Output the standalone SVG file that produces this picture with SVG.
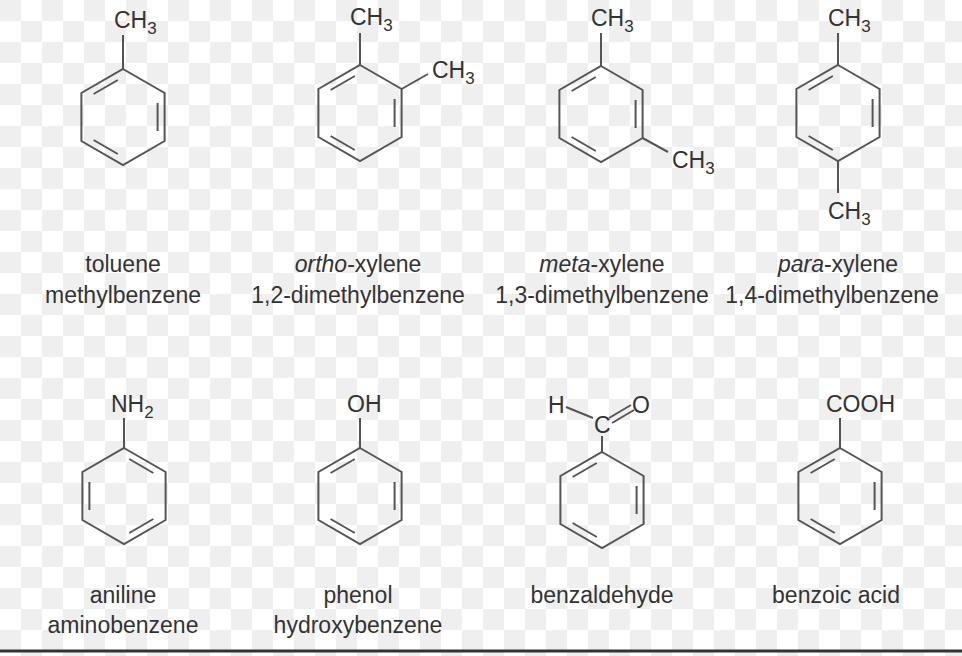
<svg xmlns="http://www.w3.org/2000/svg" width="962" height="656" viewBox="0 0 962 656">
<defs>
<pattern id="chk" width="42" height="42" patternUnits="userSpaceOnUse">
<rect width="42" height="42" fill="#ffffff"/>
<rect width="21" height="21" fill="#efefef"/>
<rect x="21" y="21" width="21" height="21" fill="#efefef"/>
</pattern>
<g id="ringA">
<polygon points="0,-48 41.6,-24 41.6,24 0,48 -41.6,24 -41.6,-24"/>
<path d="M-5.2,-37 L-29.4,-23 M34.6,-14 L34.6,14 M-5.2,37 L-29.4,23"/>
</g>
<g id="ringB">
<polygon points="0,-48 41.6,-24 41.6,24 0,48 -41.6,24 -41.6,-24"/>
<path d="M5.2,-37 L29.4,-23 M-34.6,-14 L-34.6,14 M5.2,37 L29.4,23"/>
</g>
</defs>
<style>
.b{fill:none;stroke:#555;stroke-width:2}
text{font-family:"Liberation Sans",Arial,sans-serif;font-size:23px;fill:#333}
.l{text-anchor:middle}
.s{font-size:17px}
</style>
<rect width="962" height="656" fill="url(#chk)"/>
<line x1="0" y1="651" x2="962" y2="651" stroke="#333" stroke-width="3"/>

<g id="toluene" class="b">
<use href="#ringA" x="123" y="117"/>
<line x1="123" y1="69" x2="123" y2="35"/>
</g>
<g id="ortho-xylene" class="b">
<use href="#ringA" x="360" y="113"/>
<line x1="360" y1="65" x2="360" y2="33"/>
<line x1="401.6" y1="89" x2="428" y2="74"/>
</g>
<g id="meta-xylene" class="b">
<use href="#ringA" x="601" y="114"/>
<line x1="601" y1="66" x2="601" y2="33"/>
<line x1="642.6" y1="138" x2="668" y2="152"/>
</g>
<g id="para-xylene" class="b">
<use href="#ringA" x="838" y="113"/>
<line x1="838" y1="65" x2="838" y2="33"/>
<line x1="838" y1="161" x2="838" y2="193"/>
</g>
<g id="aniline" class="b">
<use href="#ringB" x="124" y="496"/>
<line x1="124" y1="448" x2="124" y2="418"/>
</g>
<g id="phenol" class="b">
<use href="#ringA" x="360" y="496"/>
<line x1="360" y1="448" x2="360" y2="418"/>
</g>
<g id="benzaldehyde" class="b">
<use href="#ringA" x="602" y="500"/>
<line x1="602" y1="452" x2="602" y2="436"/>
<line x1="566" y1="407" x2="593" y2="418"/>
<line x1="609" y1="418" x2="631" y2="405"/>
<line x1="612" y1="423" x2="634" y2="410"/>
</g>
<g id="benzoic-acid" class="b">
<use href="#ringA" x="840" y="496"/>
<line x1="840" y1="448" x2="840" y2="418"/>
</g>

<g id="labels">
<text x="114" y="28">CH<tspan class="s" dy="6">3</tspan></text>
<text x="350" y="25">CH<tspan class="s" dy="6">3</tspan></text>
<text x="432" y="78">CH<tspan class="s" dy="6">3</tspan></text>
<text x="591" y="26">CH<tspan class="s" dy="6">3</tspan></text>
<text x="672" y="168">CH<tspan class="s" dy="6">3</tspan></text>
<text x="828" y="26">CH<tspan class="s" dy="6">3</tspan></text>
<text x="828" y="219">CH<tspan class="s" dy="6">3</tspan></text>
<text x="111" y="412">NH<tspan class="s" dy="6">2</tspan></text>
<text x="347" y="412">OH</text>
<text x="548" y="413">H</text>
<text x="594" y="433">C</text>
<text x="632" y="413">O</text>
<text x="826" y="412">COOH</text>

<text class="l" x="123" y="272">toluene</text>
<text class="l" x="123" y="303">methylbenzene</text>
<text class="l" x="358" y="272"><tspan font-style="italic">ortho</tspan>-xylene</text>
<text class="l" x="358" y="303">1,2-dimethylbenzene</text>
<text class="l" x="602" y="272"><tspan font-style="italic">meta</tspan>-xylene</text>
<text class="l" x="602" y="303">1,3-dimethylbenzene</text>
<text class="l" x="838" y="272"><tspan font-style="italic">para</tspan>-xylene</text>
<text class="l" x="832" y="303">1,4-dimethylbenzene</text>
<text class="l" x="123" y="603">aniline</text>
<text class="l" x="123" y="633">aminobenzene</text>
<text class="l" x="358" y="603">phenol</text>
<text class="l" x="358" y="633">hydroxybenzene</text>
<text class="l" x="602" y="603">benzaldehyde</text>
<text class="l" x="836" y="603">benzoic acid</text>
</g>
</svg>
